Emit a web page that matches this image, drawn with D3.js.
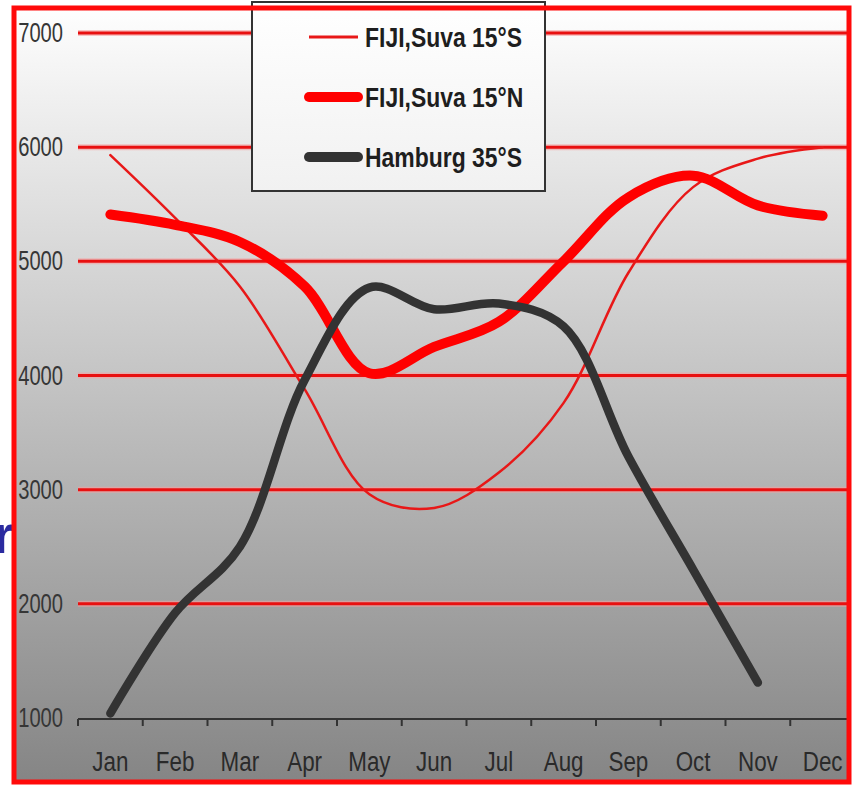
<!DOCTYPE html>
<html>
<head>
<meta charset="utf-8">
<script src="https://cdn.jsdelivr.net/npm/d3@7"></script>
<style>
  body { margin: 0; background: #fff; }
  svg { display: block; }
  text { font-family: "Liberation Sans", Arial, sans-serif; }
</style>
</head>
<body>
<div id="chart"></div>
<script>
// Chart data
const months = ["Jan", "Feb", "Mar", "Apr", "May", "Jun", "Jul", "Aug", "Sep", "Oct", "Nov", "Dec"];
const yTicks = [1000, 2000, 3000, 4000, 5000, 6000, 7000];
const fijiS = [5930, 5380, 4780, 3880, 2960, 2840, 3150, 3760, 4900, 5650, 5900, 6000];
const fijiN = [5410, 5320, 5170, 4780, 4020, 4250, 4470, 5000, 5560, 5750, 5490, 5400];
const hamburg = [1040, 1920, 2500, 3960, 4770, 4580, 4630, 4430, 3290, 2300, 1310, null];
const seriesNames = ["FIJI,Suva 15°S", "FIJI,Suva 15°N", "Hamburg 35°S"];

const width = 855, height = 786;
const frame = { left: 14, top: 8, right: 849, bottom: 782 };

const svg = d3.select("#chart").append("svg")
    .attr("width", width)
    .attr("height", height);

const defs = svg.append("defs");
const bg = defs.append("linearGradient")
    .attr("id", "bg").attr("x1", 0).attr("y1", 0).attr("x2", 0).attr("y2", 1);
bg.append("stop").attr("offset", "0%").attr("stop-color", "#fefefe");
bg.append("stop").attr("offset", "100%").attr("stop-color", "#858585");

const lg = defs.append("linearGradient")
    .attr("id", "lg").attr("x1", 0).attr("y1", 0).attr("x2", 0).attr("y2", 1);
lg.append("stop").attr("offset", "0%").attr("stop-color", "#ffffff");
lg.append("stop").attr("offset", "100%").attr("stop-color", "#f1f1f1");

// stray slide text peeking out on the left (cut off like in the source)
svg.append("text")
    .attr("x", 14).attr("y", 553)
    .attr("text-anchor", "end")
    .attr("font-size", 54)
    .attr("font-weight", "bold")
    .attr("fill", "#2b2ba0")
    .text("r");

// background of the plot
svg.append("rect")
    .attr("x", frame.left).attr("y", frame.top)
    .attr("width", frame.right - frame.left)
    .attr("height", frame.bottom - frame.top)
    .attr("fill", "url(#bg)");

// scales
const x = d3.scaleBand()
    .domain(months)
    .range([78, 855])
    .padding(0);

const y = d3.scaleLinear()
    .domain([1000, 7000])
    .range([718, 33]);

const cx = m => x(m) + x.bandwidth() / 2;

// red grid lines
const grid = svg.append("g");
yTicks.filter(v => v > 1000).forEach(v => {
    grid.append("line")
        .attr("x1", 78).attr("x2", frame.right)
        .attr("y1", y(v)).attr("y2", y(v))
        .attr("stroke", "#f6a0a0").attr("stroke-width", 6).attr("opacity", 0.6);
    grid.append("line")
        .attr("x1", 78).attr("x2", frame.right)
        .attr("y1", y(v)).attr("y2", y(v))
        .attr("stroke", "#e81010").attr("stroke-width", 3);
});

// y labels
svg.append("g").selectAll("text")
    .data(yTicks)
    .enter()
    .append("text")
    .attr("transform", d => `translate(63,${y(d) + 9}) scale(0.72,1)`)
    .attr("text-anchor", "end")
    .attr("font-size", 28)
    .attr("fill", "#363636")
    .text(d => d);

// x axis
const xAxis = svg.append("g");
xAxis.append("line")
    .attr("x1", 78).attr("x2", frame.right)
    .attr("y1", 719).attr("y2", 719)
    .attr("stroke", "#333").attr("stroke-width", 2);
xAxis.selectAll(".tk")
    .data(months)
    .enter()
    .append("line")
    .attr("class", "tk")
    .attr("x1", d => x(d)).attr("x2", d => x(d))
    .attr("y1", 719).attr("y2", 726)
    .attr("stroke", "#333").attr("stroke-width", 2);
xAxis.selectAll("text")
    .data(months)
    .enter()
    .append("text")
    .attr("transform", d => `translate(${cx(d)},771) scale(0.8,1)`)
    .attr("text-anchor", "middle")
    .attr("font-size", 28)
    .attr("fill", "#2a2a2a")
    .text(d => d);

// lines
const line = d3.line()
    .defined(d => d.v != null)
    .x(d => cx(d.m))
    .y(d => y(d.v))
    .curve(d3.curveCatmullRom.alpha(0.5));

const toPts = arr => months.map((m, i) => ({ m: m, v: arr[i] }));

const series = [
    { name: seriesNames[0], data: fijiS, color: "#e81818", w: 2.5 },
    { name: seriesNames[1], data: fijiN, color: "#ff0000", w: 10 },
    { name: seriesNames[2], data: hamburg, color: "#333333", w: 8.5 }
];

series.forEach(s => {
    svg.append("path")
        .datum(toPts(s.data))
        .attr("d", line)
        .attr("fill", "none")
        .attr("stroke", s.color)
        .attr("stroke-width", s.w)
        .attr("stroke-linecap", "round")
        .attr("stroke-linejoin", "round");
});

// legend
const legend = svg.append("g");
legend.append("rect")
    .attr("x", 252).attr("y", 2)
    .attr("width", 293).attr("height", 189)
    .attr("fill", "url(#lg)")
    .attr("stroke", "#333").attr("stroke-width", 2);

const legendY = [37, 97, 157];
series.forEach((s, i) => {
    legend.append("line")
        .attr("x1", 309).attr("x2", 358)
        .attr("y1", legendY[i]).attr("y2", legendY[i])
        .attr("stroke", s.color)
        .attr("stroke-width", i === 0 ? 3 : 10)
        .attr("stroke-linecap", i === 0 ? "butt" : "round");
    legend.append("text")
        .attr("transform", `translate(365,${legendY[i] + 10}) scale(0.85,1)`)
        .attr("font-size", 27)
        .attr("font-weight", "bold")
        .attr("fill", "#1e1e1e")
        .text(s.name);
});

// red frame on top
svg.append("rect")
    .attr("x", frame.left).attr("y", frame.top)
    .attr("width", frame.right - frame.left)
    .attr("height", frame.bottom - frame.top)
    .attr("fill", "none")
    .attr("stroke", "#ff0a0a")
    .attr("stroke-width", 5);
</script>
</body>
</html>
